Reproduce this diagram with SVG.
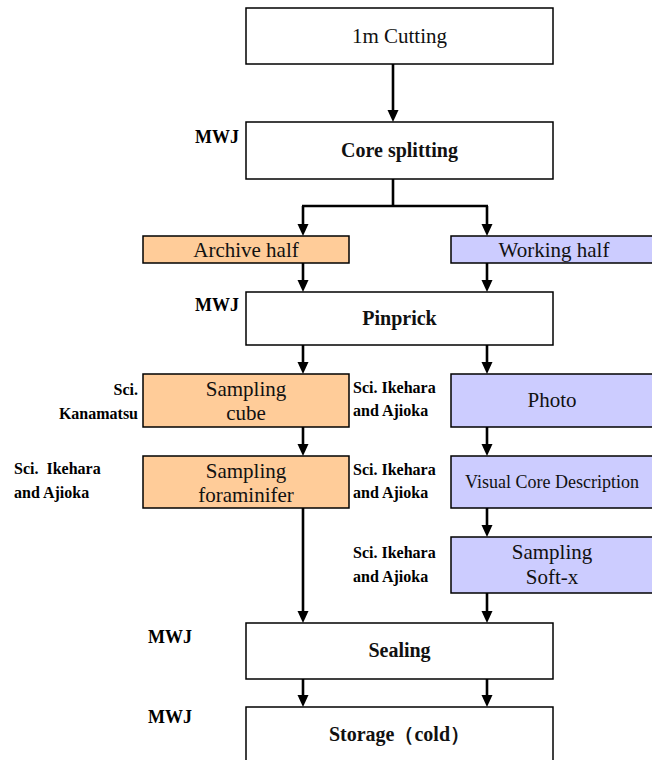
<svg xmlns="http://www.w3.org/2000/svg" width="652" height="760" viewBox="0 0 652 760">
<defs>
<style>
.box{stroke:#000;stroke-width:1.5}
.w{fill:#fff}
.o{fill:#ffcc99}
.p{fill:#ccccff}
.t{font-family:"Liberation Serif","Times New Roman",serif;font-size:21px;fill:#111;text-anchor:middle}
.b{font-weight:bold;font-size:20px}
.s{font-size:18px}
.lbl{font-family:"Liberation Serif","Times New Roman",serif;font-size:16px;font-weight:bold;fill:#000}
.mwj{font-family:"Liberation Serif","Times New Roman",serif;font-size:18px;font-weight:bold;fill:#000}
.c{stroke:#000;stroke-width:2.6;fill:none}
</style>
</defs>
<rect width="652" height="760" fill="#fff"/>
<g id="connectors">
<line class="c" x1="393" y1="64" x2="393" y2="112"/>
<line class="c" x1="393" y1="179" x2="393" y2="206"/>
<line class="c" x1="302" y1="206" x2="488" y2="206"/>
<line class="c" x1="303" y1="206" x2="303" y2="226"/>
<line class="c" x1="487" y1="206" x2="487" y2="226"/>
<line class="c" x1="303" y1="263" x2="303" y2="282"/>
<line class="c" x1="487" y1="263" x2="487" y2="282"/>
<line class="c" x1="303" y1="345" x2="303" y2="364"/>
<line class="c" x1="487" y1="345" x2="487" y2="364"/>
<line class="c" x1="303" y1="427" x2="303" y2="446"/>
<line class="c" x1="487" y1="427" x2="487" y2="446"/>
<line class="c" x1="487" y1="508" x2="487" y2="527"/>
<line class="c" x1="303" y1="508" x2="303" y2="613"/>
<line class="c" x1="487" y1="593" x2="487" y2="613"/>
<line class="c" x1="303" y1="679" x2="303" y2="697"/>
<line class="c" x1="487" y1="679" x2="487" y2="697"/>
<g fill="#000">
<path d="M387.5,110 L398.5,110 L393,122 Z"/>
<path d="M297.5,224 L308.5,224 L303,236 Z"/>
<path d="M481.5,224 L492.5,224 L487,236 Z"/>
<path d="M297.5,280 L308.5,280 L303,292 Z"/>
<path d="M481.5,280 L492.5,280 L487,292 Z"/>
<path d="M297.5,362 L308.5,362 L303,374 Z"/>
<path d="M481.5,362 L492.5,362 L487,374 Z"/>
<path d="M297.5,444 L308.5,444 L303,456 Z"/>
<path d="M481.5,444 L492.5,444 L487,456 Z"/>
<path d="M481.5,525 L492.5,525 L487,537 Z"/>
<path d="M297.5,611 L308.5,611 L303,623 Z"/>
<path d="M481.5,611 L492.5,611 L487,623 Z"/>
<path d="M297.5,695 L308.5,695 L303,707 Z"/>
<path d="M481.5,695 L492.5,695 L487,707 Z"/>
</g>
</g>
<g id="cutting"><rect class="box w" x="246" y="8" width="307" height="56"/><text class="t" x="399.5" y="43">1m Cutting</text></g>
<g id="splitting"><rect class="box w" x="246" y="122" width="307" height="57"/><text class="t b" x="399.5" y="157">Core splitting</text><text class="mwj" x="195" y="143">MWJ</text></g>
<g id="archive"><rect class="box o" x="143" y="236" width="206" height="27"/><text class="t" x="246" y="257">Archive half</text></g>
<g id="working"><rect class="box p" x="451" y="236" width="210" height="27"/><text class="t" x="554" y="257">Working half</text></g>
<g id="pinprick"><rect class="box w" x="246" y="292" width="307" height="53"/><text class="t b" x="399.5" y="325">Pinprick</text><text class="mwj" x="195" y="311">MWJ</text></g>
<g id="cube"><rect class="box o" x="143" y="374" width="206" height="53"/><text class="t" x="246" y="396">Sampling</text><text class="t" x="246" y="420">cube</text>
<text class="lbl" x="138" y="395" text-anchor="end">Sci.</text><text class="lbl" x="138" y="419" text-anchor="end">Kanamatsu</text></g>
<g id="photo"><rect class="box p" x="451" y="374" width="210" height="53"/><text class="t" x="552" y="407">Photo</text>
<text class="lbl" x="353" y="393">Sci. Ikehara</text><text class="lbl" x="353" y="416">and Ajioka</text></g>
<g id="foraminifer"><rect class="box o" x="143" y="456" width="206" height="52"/><text class="t" x="246" y="478">Sampling</text><text class="t" x="246" y="502">foraminifer</text>
<text class="lbl" x="14" y="474" xml:space="preserve">Sci.  Ikehara</text><text class="lbl" x="14" y="498">and Ajioka</text></g>
<g id="vcd"><rect class="box p" x="451" y="456" width="210" height="52"/><text class="t s" x="552" y="488">Visual Core Description</text>
<text class="lbl" x="353" y="475">Sci. Ikehara</text><text class="lbl" x="353" y="498">and Ajioka</text></g>
<g id="softx"><rect class="box p" x="451" y="537" width="210" height="56"/><text class="t" x="552" y="559">Sampling</text><text class="t" x="552" y="584">Soft-x</text>
<text class="lbl" x="353" y="558">Sci. Ikehara</text><text class="lbl" x="353" y="582">and Ajioka</text></g>
<g id="sealing"><rect class="box w" x="246" y="623" width="307" height="56"/><text class="t b" x="399.5" y="657">Sealing</text><text class="mwj" x="148" y="643">MWJ</text></g>
<g id="storage"><rect class="box w" x="246" y="707" width="307" height="60"/><text class="t b" x="399.5" y="741">Storage（cold）</text><text class="mwj" x="148" y="723">MWJ</text></g>
</svg>
